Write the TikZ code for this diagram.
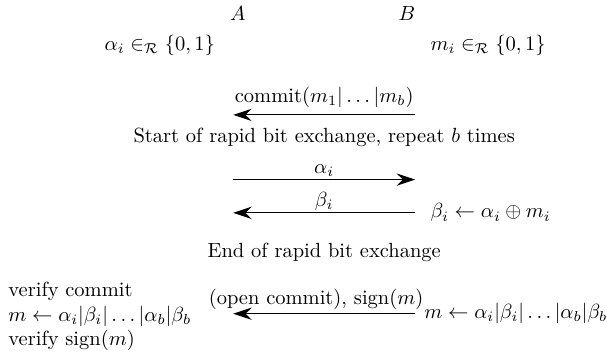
\documentclass[tikz,border=0pt]{standalone}
\usepackage{amsmath}
\usetikzlibrary{arrows.meta,positioning}

\begin{document}
\begin{tikzpicture}[>={Stealth[length=9pt,width=6pt,inset=3pt]},
    msg/.style={->, line width=0.6pt},
    bitlbl/.style={above, inner sep=1pt}]
  \useasboundingbox (0,0) rectangle (10.41,6.05);
  % parties and their random bits
  \node (A) at (4.08,5.81) {$A$};
  \node (B) at (6.98,5.81) {$B$};
  \node (alphaInit) at (2.74,5.28) {$\alpha_i \in_{\mathcal{R}} \{0,1\}$};
  \node (mInit) at (8.37,5.28) {$m_i \in_{\mathcal{R}} \{0,1\}$};
  % lane end points
  \coordinate (commitL) at (4.00,4.08);
  \coordinate (commitR) at (7.12,4.08);
  \coordinate (alphaL) at (4.00,2.97);
  \coordinate (alphaR) at (7.12,2.97);
  \coordinate (betaL) at (4.00,2.40);
  \coordinate (betaR) at (7.12,2.40);
  \coordinate (signL) at (4.00,0.67);
  \coordinate (signR) at (7.12,0.67);
  % commitment
  \draw[msg] (commitR) -- node[above] (commitLbl) {commit$(m_1|\ldots|m_b)$} (commitL);
  \node (startFast) at (5.56,3.69) {Start of rapid bit exchange, repeat $b$ times};
  % rapid bit exchange
  \draw[msg] (alphaL) -- node[bitlbl] (alphaLbl) {$\alpha_i$} (alphaR);
  \draw[msg] (betaR) -- node[bitlbl] (betaLbl) {$\beta_i$} (betaL);
  \node[right=4pt of betaR] (betaCalc) {$\beta_i \leftarrow \alpha_i \oplus m_i$};
  \node (endFast) at (5.56,1.72) {End of rapid bit exchange};
  % signature
  \draw[msg] (signR) -- node[above, inner sep=1.5pt, xshift=-0.14cm] (signLbl) {(open commit), sign$(m)$} (signL);
  \node[right=1pt of signR] (mB) {$m \leftarrow \alpha_i|\beta_i|\ldots|\alpha_b|\beta_b$};
  \node[anchor=west, align=left] (verifyA) at (0.02,0.62)
    {verify commit\\ $m \leftarrow \alpha_i|\beta_i|\ldots|\alpha_b|\beta_b$\\ verify sign$(m)$};
\end{tikzpicture}
\end{document}
